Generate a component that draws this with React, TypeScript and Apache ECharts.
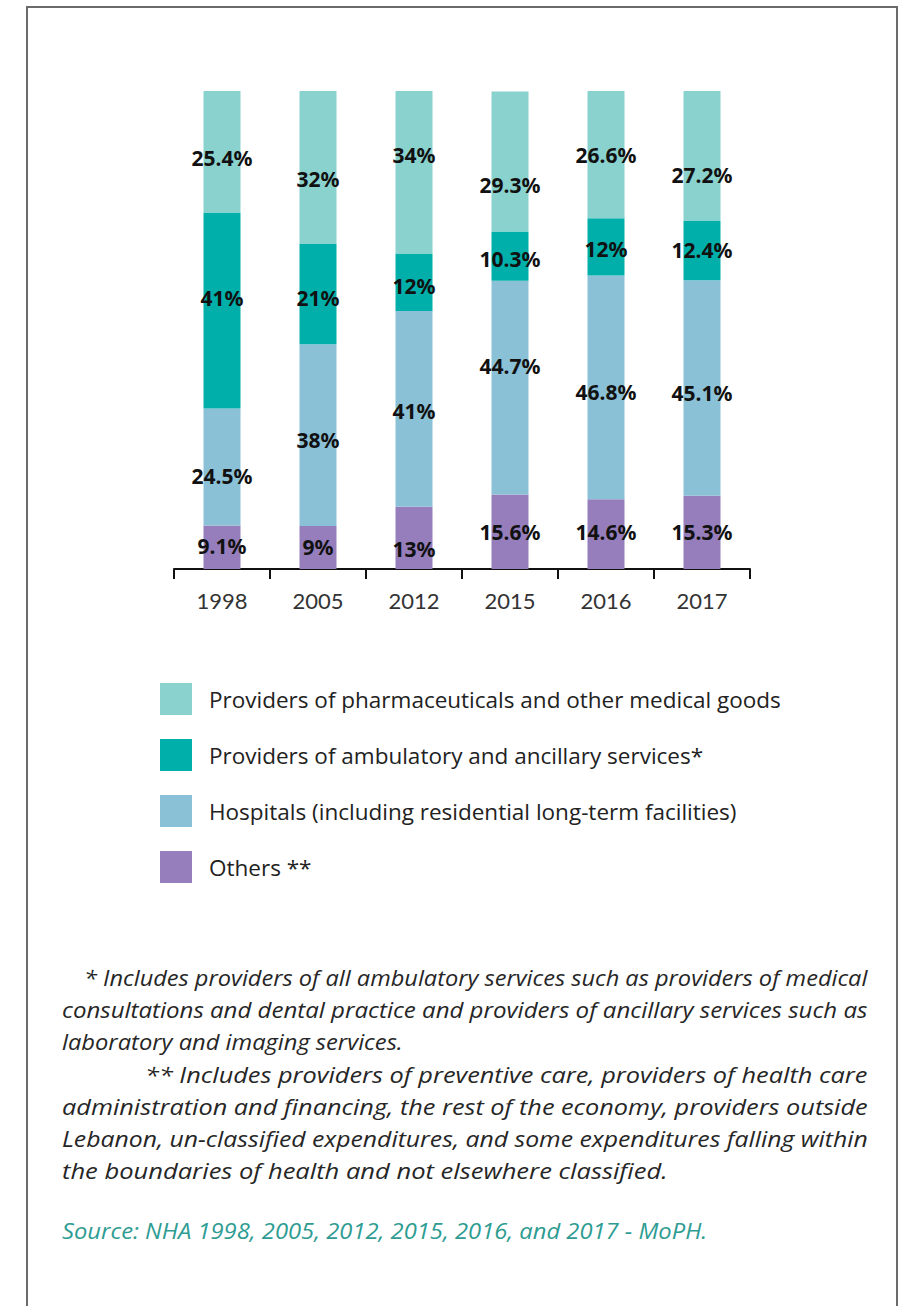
import React, { useEffect, useRef } from "react";
import * as echarts from "echarts";

const years = ["1998", "2005", "2012", "2015", "2016", "2017"];
const others = [9.1, 9, 13, 15.6, 14.6, 15.3];
const hospitals = [24.5, 38, 41, 44.7, 46.8, 45.1];
const ambulatory = [41, 21, 12, 10.3, 12, 12.4];
const pharma = [25.4, 32, 34, 29.3, 26.6, 27.2];

const seriesNames = [
  "Providers of pharmaceuticals and other medical goods",
  "Providers of ambulatory and ancillary services*",
  "Hospitals (including residential long-term facilities)",
  "Others **",
];
const colors = ["#8AD2CE", "#00AFAA", "#8BC1D6", "#957EBB"];

// vertical nudges of the value labels (px), as placed in the original
const othersLabelDy = [-1, 0, 11, 0, -2, 0];
const hospitalsLabelDy = [9, 5, 2, -22, 5, 5];
const ambulatoryLabelDy = [-12, 4, 4, 3, 2, -1];
const pharmaLabelDy = [6, 12, -17, 23, 0, 19];

const footnoteLines = [
  "* Includes providers of all ambulatory services such as providers of medical",
  "consultations and dental practice and providers of ancillary services such as",
  "laboratory and imaging services.",
  "** Includes providers of preventive care, providers of health care",
  "administration and financing, the rest of the economy, providers outside",
  "Lebanon, un-classified expenditures, and some expenditures falling within",
  "the boundaries of health and not elsewhere classified.",
];
const sourceText = "Source: NHA 1998, 2005, 2012, 2015, 2016, and 2017 - MoPH.";

export default function App() {
  const ref = useRef<HTMLDivElement>(null);
  useEffect(() => {
    document.body.style.margin = "0";
    if (!ref.current) return;
    const chart = echarts.init(ref.current, null, { renderer: "svg" });
    const mk = (name: string, data: number[], color: string, dy: number[]) => ({
      name,
      type: "bar" as const,
      stack: "total",
      barWidth: 37,
      itemStyle: { color },
      data: data.map((v, i) => ({ value: v, label: { offset: [0, dy[i]] } })),
      label: {
        show: true,
        position: "inside" as const,
        color: "#111",
        fontWeight: "bold" as const,
        fontSize: 21,
        fontFamily: "Noto Sans",
        formatter: (p: any) => `${p.value}%`,
      },
    });

    const footFont = "Open Sans";
    const footSize = 21;
    const canvas = document.createElement("canvas");
    const ctx = canvas.getContext("2d")!;
    const measure = (t: string, size: number) => {
      ctx.font = `italic ${size}px "${footFont}"`;
      return ctx.measureText(t).width;
    };
    const lineX = [84, 62, 62, 145, 62, 62, 62];
    const lineY = [978, 1010, 1042, 1075, 1107, 1139, 1171];
    const lineRight = [868, 868, 403, 868, 868, 868, 668];

    const graphics: any[] = [
      {
        type: "rect",
        shape: { x: 27, y: 7, width: 870, height: 1320 },
        style: { fill: "none", stroke: "#6b6b6b", lineWidth: 2 },
        silent: true,
      },
      ...footnoteLines.map((t, i) => {
        const w = measure(t, footSize);
        const sx = w > 0 ? (lineRight[i] - lineX[i]) / w : 1;
        return {
          type: "text",
          x: lineX[i],
          y: lineY[i],
          scaleX: sx,
          style: {
            text: t,
            fontSize: footSize,
            fontStyle: "italic",
            fontFamily: footFont,
            fill: "#262626",
            textVerticalAlign: "middle",
          },
        };
      }),
      (() => {
        const w = measure(sourceText, 21);
        return {
          type: "text",
          x: 62,
          y: 1231,
          scaleX: w > 0 ? (708 - 62) / w : 1,
          style: {
            text: sourceText,
            fontSize: 21,
            fontStyle: "italic",
            fontFamily: footFont,
            fill: "#2E9C92",
            textVerticalAlign: "middle",
          },
        };
      })(),
    ];
    chart.setOption({
      animation: false,
      grid: { left: 174, right: 165, top: 91, bottom: 737, containLabel: false },
      xAxis: {
        type: "category",
        data: years,
        axisLine: { lineStyle: { color: "#111", width: 2 } },
        axisTick: { show: true, length: 10, lineStyle: { color: "#111", width: 2 } },
        axisLabel: { fontSize: 22, color: "#333", fontFamily: "Lato", margin: 20 },
      },
      yAxis: { type: "value", min: 0, max: 100, show: false, splitLine: { show: false } },
      legend: {
        data: seriesNames,
        orient: "vertical",
        left: 160,
        top: 683,
        padding: 0,
        icon: "rect",
        itemWidth: 32,
        itemHeight: 32,
        itemGap: 24,
        selectedMode: false,
        textStyle: { fontSize: 22.5, color: "#222", fontFamily: "Open Sans", padding: [0, 0, 0, 12] },
      },
      series: [
        mk(seriesNames[3], others, colors[3], othersLabelDy),
        mk(seriesNames[2], hospitals, colors[2], hospitalsLabelDy),
        mk(seriesNames[1], ambulatory, colors[1], ambulatoryLabelDy),
        mk(seriesNames[0], pharma, colors[0], pharmaLabelDy),
      ],
      graphic: graphics,
    });
    return () => chart.dispose();
  }, []);
  return <div ref={ref} style={{ width: 915, height: 1306, background: "#fff" }} />;
}
